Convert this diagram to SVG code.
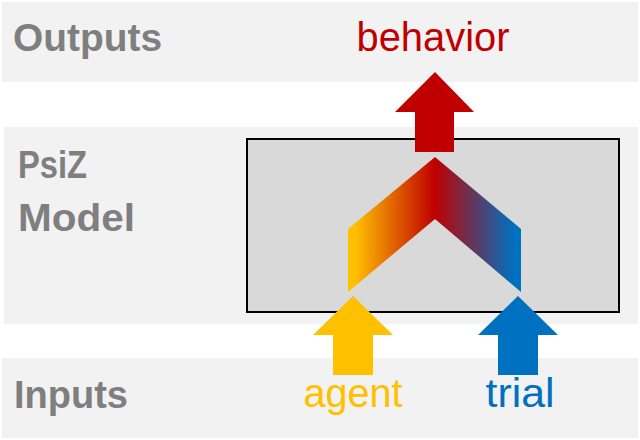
<svg xmlns="http://www.w3.org/2000/svg" width="640" height="440" viewBox="0 0 640 440">
  <defs>
    <style>
      .band { fill: #F2F2F2; }
      .label { font-family: "Liberation Sans", Arial, sans-serif; font-weight: bold; font-size: 39px; fill: #7F7F7F; }
      .io { font-family: "Liberation Sans", Arial, sans-serif; font-size: 40px; text-anchor: middle; }
    </style>
    <linearGradient id="chev" gradientUnits="userSpaceOnUse" x1="348" y1="0" x2="521" y2="0">
      <stop offset="0.04" stop-color="#FFC000"/>
      <stop offset="0.5" stop-color="#C00000"/>
      <stop offset="0.96" stop-color="#0070C0"/>
    </linearGradient>
  </defs>
  <rect width="640" height="440" fill="#FFFFFF"/>

  <g id="outputs">
    <rect class="band" x="2" y="2" width="636" height="80"/>
    <text class="label" x="13" y="51" textLength="149" lengthAdjust="spacingAndGlyphs">Outputs</text>
    <text class="io" x="433" y="51" fill="#C00000" textLength="153" lengthAdjust="spacingAndGlyphs">behavior</text>
  </g>

  <g id="model">
    <rect class="band" x="4" y="127" width="634" height="197"/>
    <text class="label" x="18" y="178" textLength="69" lengthAdjust="spacingAndGlyphs">PsiZ</text>
    <text class="label" x="18" y="231" textLength="117" lengthAdjust="spacingAndGlyphs">Model</text>
    <rect x="247" y="139" width="372" height="173" fill="#D9D9D9" stroke="#000000" stroke-width="2"/>
    <polygon points="348,229 435,157 521,229 521,292 435,219 348,292" fill="url(#chev)"/>
  </g>

  <g id="inputs">
    <rect class="band" x="2" y="358" width="636" height="80"/>
    <text class="label" x="14" y="408" textLength="114" lengthAdjust="spacingAndGlyphs">Inputs</text>
    <text class="io" x="353" y="407" fill="#FFC000" textLength="99" lengthAdjust="spacingAndGlyphs">agent</text>
    <text class="io" x="520" y="407" fill="#0070C0" textLength="69" lengthAdjust="spacingAndGlyphs">trial</text>
  </g>

  <g id="connectors">
    <polygon points="435,72 474,112 454,112 454,152 415,152 415,112 395,112" fill="#C00000"/>
    <polygon points="353,296 393,335 373,335 373,375 333,375 333,335 313,335" fill="#FFC000"/>
    <polygon points="518,296 558,335 538,335 538,375 498,375 498,335 478,335" fill="#0070C0"/>
  </g>
</svg>
